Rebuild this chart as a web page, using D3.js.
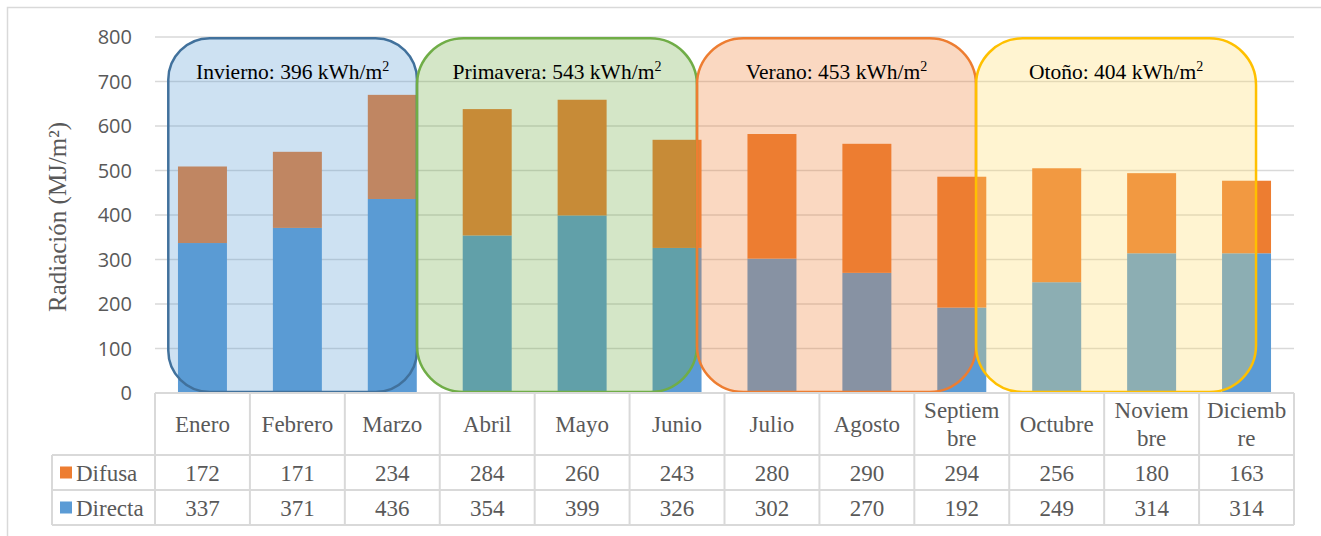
<!DOCTYPE html>
<html>
<head>
<meta charset="utf-8">
<script src="https://cdn.jsdelivr.net/npm/d3@7"></script>
<style>
  body { margin: 0; background: #fff; }
  svg { display: block; }
</style>
</head>
<body>
<svg id="chart" width="1321" height="536"></svg>
<script>
// data
const months = ['Enero', 'Febrero', 'Marzo', 'Abril', 'Mayo', 'Junio', 'Julio', 'Agosto',
  'Septiembre', 'Octubre', 'Noviembre', 'Diciembre']
const difusa = [172, 171, 234, 284, 260, 243, 280, 290, 294, 256, 180, 163]
const directa = [337, 371, 436, 354, 399, 326, 302, 270, 192, 249, 314, 314]
const yTicks = [0, 100, 200, 300, 400, 500, 600, 700, 800]

// season boxes, in month-index units along x and MJ/m2 along y
const seasonNames = ['Invierno', 'Primavera', 'Verano', 'Otoño']
const seasonTotals = [396, 543, 453, 404]
const seasonFrom = [0.14, 2.76, 5.71, 8.65]
const seasonTo = [2.76, 5.71, 8.65, 11.6]
const seasonTop = 797

const colors = { Difusa: '#ed7d31', Directa: '#5b9bd5' }
const seasonFill = ['#5b9bd5', '#70ad47', '#ed7d31', '#ffd966']
const seasonStroke = ['#41719c', '#70ad47', '#ed7d31', '#ffc000']

const serif = "'Liberation Serif', 'Times New Roman', serif"
const grey = '#595959'
const lineGrey = '#d9d9d9'

const svg = d3.select('#chart')

const plotLeft = 155, plotRight = 1294, plotTop = 37, plotBottom = 393
const headerH = 62, rowH = 35, legendLeft = 52

// outer frame
svg.append('rect')
  .attr('x', 7.5).attr('y', 7.5)
  .attr('width', 1330).attr('height', 540)
  .attr('fill', 'none')
  .attr('stroke', lineGrey)
  .attr('stroke-width', 1.5)

const col = d3.scaleBand().domain(months).range([plotLeft, plotRight])
const xBar = d3.scaleBand().domain(months).range([plotLeft, plotRight])
  .paddingInner(0.484).paddingOuter(0.242)
const xIdx = d3.scaleLinear().domain([0, months.length]).range([plotLeft, plotRight])
const y = d3.scaleLinear().domain([0, 800]).range([plotBottom, plotTop])

// gridlines
svg.append('g')
  .selectAll('line')
  .data(yTicks.filter(t => t > 0))
  .join('line')
  .attr('x1', plotLeft).attr('x2', plotRight)
  .attr('y1', d => y(d)).attr('y2', d => y(d))
  .attr('stroke', lineGrey)
  .attr('stroke-width', 1.5)

// y tick labels
svg.append('g')
  .selectAll('text')
  .data(yTicks)
  .join('text')
  .attr('x', 132)
  .attr('y', d => y(d))
  .attr('dy', '0.35em')
  .attr('text-anchor', 'end')
  .attr('fill', grey)
  .style('font-family', "'Open Sans', sans-serif")
  .style('font-size', '20px')
  .text(d => d)

// y axis title
svg.append('text')
  .attr('transform', `translate(66, ${(plotTop + plotBottom) / 2 + 2}) rotate(-90)`)
  .attr('text-anchor', 'middle')
  .attr('fill', grey)
  .style('font-family', serif)
  .style('font-size', '25px')
  .text('Radiación (MJ/m²)')

// stacked bars
const rows = months.map((m, i) => ({ month: m, Directa: directa[i], Difusa: difusa[i] }))
const stack = d3.stack().keys(['Directa', 'Difusa'])(rows)

svg.append('g')
  .selectAll('g')
  .data(stack)
  .join('g')
  .attr('fill', d => colors[d.key])
  .selectAll('rect')
  .data(d => d)
  .join('rect')
  .attr('x', d => xBar(d.data.month))
  .attr('width', xBar.bandwidth())
  .attr('y', d => y(d[1]))
  .attr('height', d => y(d[0]) - y(d[1]))

// season boxes over the bars
const seasons = seasonNames.map((n, i) => ({
  name: n, total: seasonTotals[i], from: seasonFrom[i], to: seasonTo[i], i
}))

const sg = svg.append('g')
  .selectAll('g')
  .data(seasons)
  .join('g')

sg.append('rect')
  .attr('x', d => xIdx(d.from))
  .attr('width', d => xIdx(d.to) - xIdx(d.from))
  .attr('y', y(seasonTop))
  .attr('height', y(0) - y(seasonTop) - 1)
  .attr('rx', d => (xIdx(d.to) - xIdx(d.from)) / 6)
  .attr('fill', d => seasonFill[d.i])
  .attr('fill-opacity', 0.3)
  .attr('stroke', d => seasonStroke[d.i])
  .attr('stroke-width', 2.5)

const label = sg.append('text')
  .attr('x', d => (xIdx(d.from) + xIdx(d.to)) / 2)
  .attr('y', y(seasonTop) + 41)
  .attr('text-anchor', 'middle')
  .attr('fill', '#000')
  .style('font-family', serif)
  .style('font-size', '21.5px')
label.append('tspan').text(d => `${d.name}: ${d.total} kWh/m`)
label.append('tspan')
  .attr('dy', -8)
  .style('font-size', '14px')
  .text('2')

// data table
const table = svg.append('g')
const tableBottom = plotBottom + headerH + 2 * rowH

table.append('line')
  .attr('x1', plotLeft).attr('x2', plotRight)
  .attr('y1', plotBottom).attr('y2', plotBottom)
  .attr('stroke', lineGrey).attr('stroke-width', 2)

table.selectAll('.hline')
  .data([plotBottom + headerH, plotBottom + headerH + rowH, tableBottom])
  .join('line')
  .attr('class', 'hline')
  .attr('x1', legendLeft).attr('x2', plotRight)
  .attr('y1', d => d).attr('y2', d => d)
  .attr('stroke', lineGrey).attr('stroke-width', 2)

table.append('line')
  .attr('x1', legendLeft).attr('x2', legendLeft)
  .attr('y1', plotBottom + headerH).attr('y2', tableBottom)
  .attr('stroke', lineGrey).attr('stroke-width', 2)

table.selectAll('.vline')
  .data(d3.range(months.length + 1))
  .join('line')
  .attr('class', 'vline')
  .attr('x1', d => xIdx(d)).attr('x2', d => xIdx(d))
  .attr('y1', plotBottom).attr('y2', tableBottom)
  .attr('stroke', lineGrey).attr('stroke-width', 2)

// header labels, broken by character when too wide for a column
const maxW = 82
const header = table.selectAll('.head')
  .data(months)
  .join('text')
  .attr('class', 'head')
  .attr('text-anchor', 'middle')
  .attr('fill', grey)
  .style('font-family', serif)
  .style('font-size', '23px')

header.each(function (m) {
  const t = d3.select(this)
  const cx = col(m) + col.bandwidth() / 2
  const probe = t.append('tspan').text(m)
  const lines = []
  if (probe.node().getComputedTextLength() <= maxW) {
    lines.push(m)
  } else {
    let cur = ''
    for (const ch of m) {
      probe.text(cur + ch)
      if (probe.node().getComputedTextLength() > maxW) {
        lines.push(cur)
        cur = ch
      } else {
        cur += ch
      }
    }
    lines.push(cur)
  }
  probe.remove()
  const lh = 28
  const y0 = plotBottom + headerH / 2 - (lines.length - 1) * lh / 2
  lines.forEach((ln, k) => {
    t.append('tspan')
      .attr('x', cx)
      .attr('y', y0 + k * lh)
      .attr('dy', '0.35em')
      .text(ln)
  })
})

const seriesRows = [
  { key: 'Difusa', values: difusa },
  { key: 'Directa', values: directa }
]

const rowG = table.selectAll('.row')
  .data(seriesRows)
  .join('g')
  .attr('class', 'row')
  .attr('transform', (d, i) => `translate(0, ${plotBottom + headerH + i * rowH + rowH / 2})`)

rowG.append('rect')
  .attr('x', 60).attr('y', -6)
  .attr('width', 12).attr('height', 12)
  .attr('fill', d => colors[d.key])

rowG.append('text')
  .attr('x', 76)
  .attr('dy', '0.35em')
  .attr('fill', grey)
  .style('font-family', serif)
  .style('font-size', '23px')
  .text(d => d.key)

rowG.selectAll('.val')
  .data(d => d.values)
  .join('text')
  .attr('class', 'val')
  .attr('x', (d, i) => col(months[i]) + col.bandwidth() / 2)
  .attr('dy', '0.35em')
  .attr('text-anchor', 'middle')
  .attr('fill', grey)
  .style('font-family', serif)
  .style('font-size', '23px')
  .text(d => d)
</script>
</body>
</html>
